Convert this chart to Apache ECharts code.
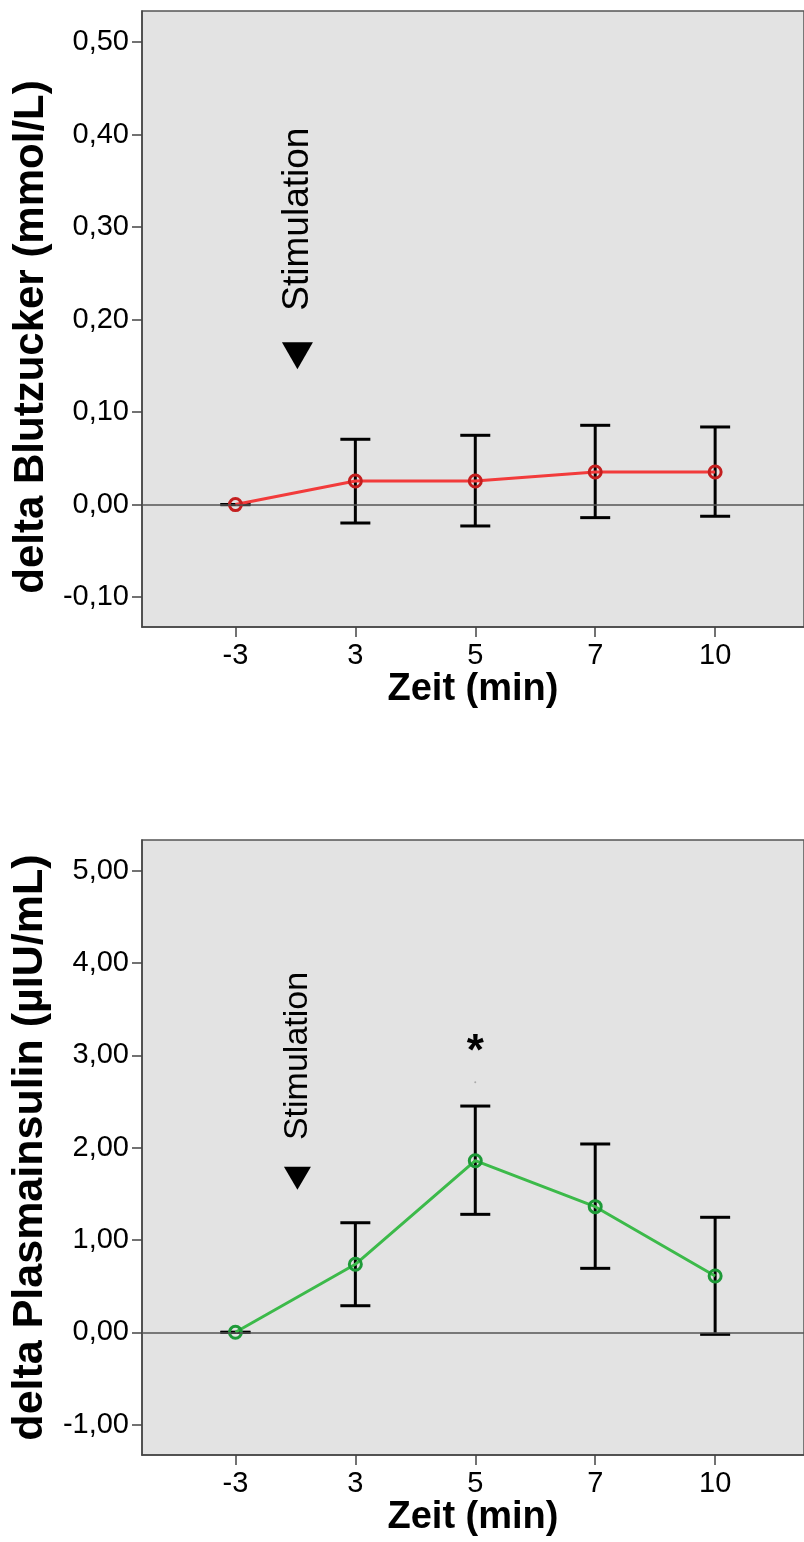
<!DOCTYPE html>
<html>
<head>
<meta charset="utf-8">
<script src="https://cdn.jsdelivr.net/npm/echarts@6/dist/echarts.min.js"></script>
<style>
  html, body { margin: 0; padding: 0; background: #fff; }
  #chart { width: 804px; height: 1542px; }
</style>
</head>
<body>
<div id="chart"></div>
<script>
// time points (min), drawn as evenly spaced positions 0..4
const timeLabels = ["-3", "3", "5", "7", "10"];
const timeIndex = [0, 1, 2, 3, 4];

// delta Blutzucker (mmol/L)
const glucoseMean = [0, 0.0255, 0.0255, 0.0352, 0.0352];
const glucoseLow = [0, -0.0199, -0.0231, -0.0141, -0.0126];
const glucoseHigh = [0, 0.0706, 0.0749, 0.0857, 0.0839];
const glucoseTicks = [-0.1, 0, 0.1, 0.2, 0.3, 0.4, 0.5];
const glucoseRange = [-0.1323, 0.5335];

// delta Plasmainsulin (µIU/mL)
const insulinMean = [0, 0.737, 1.859, 1.361, 0.61];
const insulinLow = [0, 0.288, 1.278, 0.693, -0.022];
const insulinHigh = [0, 1.187, 2.451, 2.04, 1.246];
const insulinTicks = [-1, 0, 1, 2, 3, 4, 5];
const insulinRange = [-1.329, 5.333];

// annotations
const stimulationX = 0.517;
const glucoseStimMarker = 0.161;
const glucoseStimText = 0.2064;
const insulinStimMarker = 1.668;
const insulinStimText = 2.05;
const insulinStar = [2, 3.134];
const insulinDot = [2, 2.708];

const xRange = [-0.779, 4.741];
const font = "Liberation Sans, Arial, sans-serif";

var chart = echarts.init(document.getElementById("chart"), null, { renderer: "canvas" });

function fmtComma(v) {
  return v.toFixed(2).replace(".", ",");
}

function errorBar(params, api) {
  var x = api.value(0);
  var lo = api.coord([x, api.value(1)]);
  var hi = api.coord([x, api.value(2)]);
  var half = 15;
  var style = { stroke: "#000", lineWidth: 3 };
  return {
    type: "group",
    children: [
      { type: "line", shape: { x1: lo[0], y1: lo[1], x2: hi[0], y2: hi[1] }, style: style },
      { type: "line", shape: { x1: hi[0] - half, y1: hi[1], x2: hi[0] + half, y2: hi[1] }, style: style },
      { type: "line", shape: { x1: lo[0] - half, y1: lo[1], x2: lo[0] + half, y2: lo[1] }, style: style },
    ],
  };
}

function xAxisFor(gridIndex) {
  return {
    type: "value",
    gridIndex: gridIndex,
    min: xRange[0],
    max: xRange[1],
    name: "Zeit (min)",
    nameLocation: "middle",
    nameGap: 40,
    nameTextStyle: { fontSize: 38, fontWeight: "bold", color: "#000", fontFamily: font, verticalAlign: "top" },
    axisLine: { show: true, onZero: false, lineStyle: { color: "#444", width: 1.5 } },
    axisTick: { show: true, length: 10, customValues: timeIndex, lineStyle: { color: "#444", width: 1.5 } },
    axisLabel: {
      customValues: timeIndex,
      margin: 14,
      fontSize: 29,
      color: "#000",
      fontFamily: font,
      formatter: function(v) {
        return timeLabels[Math.round(v)];
      },
    },
    splitLine: { show: false },
  };
}

function yAxisFor(gridIndex, title, range, ticks, titleSize, titlePad) {
  return {
    type: "value",
    gridIndex: gridIndex,
    min: range[0],
    max: range[1],
    name: title,
    nameLocation: "middle",
    nameGap: 88,
    nameTextStyle: { fontSize: titleSize, fontWeight: "bold", color: "#000", fontFamily: font, padding: titlePad },
    axisLine: { show: true, onZero: false, lineStyle: { color: "#444", width: 1.5 } },
    axisTick: { show: true, length: 10, customValues: ticks, lineStyle: { color: "#444", width: 1.5 } },
    axisLabel: {
      customValues: ticks,
      margin: 13,
      fontSize: 29,
      color: "#000",
      fontFamily: font,
      formatter: fmtComma,
    },
    splitLine: { show: false },
  };
}

function panelSeries(i, mean, low, high, lineColor, ringColor, stimMarker, stimText, stimFont, triSize) {
  return [
    {
      type: "line",
      xAxisIndex: i,
      yAxisIndex: i,
      data: [],
      z: 1,
      silent: true,
      markLine: {
        silent: true,
        symbol: ["none", "none"],
        label: { show: false },
        lineStyle: { color: "#555", width: 1.5, type: "solid" },
        emphasis: { disabled: true },
        data: [{ yAxis: 0 }],
      },
    },
    {
      type: "custom",
      xAxisIndex: i,
      yAxisIndex: i,
      z: 3,
      silent: true,
      renderItem: errorBar,
      encode: { x: 0, y: [1, 2] },
      data: timeIndex.map((t, k) => [t, low[k], high[k]]),
    },
    {
      type: "line",
      xAxisIndex: i,
      yAxisIndex: i,
      z: 4,
      silent: true,
      data: timeIndex.map((t, k) => [t, mean[k]]),
      lineStyle: { color: lineColor, width: 3 },
      symbol: "circle",
      symbolSize: 12,
      itemStyle: { color: "rgba(0,0,0,0)", borderColor: ringColor, borderWidth: 3 },
    },
    {
      type: "scatter",
      xAxisIndex: i,
      yAxisIndex: i,
      z: 5,
      silent: true,
      symbol: "triangle",
      symbolRotate: 180,
      symbolSize: triSize,
      itemStyle: { color: "#000", opacity: 1 },
      data: [[stimulationX, stimMarker]],
    },
    {
      type: "scatter",
      xAxisIndex: i,
      yAxisIndex: i,
      z: 5,
      silent: true,
      symbolSize: 0,
      itemStyle: { opacity: 1 },
      data: [[stimulationX, stimText]],
      label: {
        show: true,
        position: "inside",
        formatter: "Stimulation",
        rotate: 90,
        align: "left",
        verticalAlign: "middle",
        offset: [3, 0],
        fontSize: stimFont,
        color: "#000",
        fontFamily: font,
      },
    },
  ];
}

var series = []
  .concat(panelSeries(0, glucoseMean, glucoseLow, glucoseHigh, "#f23b3b", "#c41f1f", glucoseStimMarker, glucoseStimText, 37, [31, 27]))
  .concat(panelSeries(1, insulinMean, insulinLow, insulinHigh, "#3cba4a", "#1e9a38", insulinStimMarker, insulinStimText, 34, [27, 23]));

series.push({
  type: "scatter",
  xAxisIndex: 1,
  yAxisIndex: 1,
  z: 5,
  silent: true,
  symbolSize: 0,
  itemStyle: { opacity: 1 },
  data: [insulinStar],
  label: {
    show: true,
    position: "inside",
    formatter: "*",
    fontSize: 44,
    fontWeight: "bold",
    color: "#000",
    fontFamily: font,
    offset: [0, 10],
  },
});
series.push({
  type: "scatter",
  xAxisIndex: 1,
  yAxisIndex: 1,
  z: 5,
  silent: true,
  symbolSize: 2,
  itemStyle: { color: "#aaa", opacity: 1 },
  data: [insulinDot],
});

var option = {
  animation: false,
  textStyle: { fontFamily: font },
  grid: [
    { left: 142, top: 11, right: -6, height: 616, show: true, backgroundColor: "#e3e3e3", borderColor: "#555", borderWidth: 1.5 },
    { left: 142, top: 840, right: -6, height: 615, show: true, backgroundColor: "#e3e3e3", borderColor: "#555", borderWidth: 1.5 },
  ],
  xAxis: [xAxisFor(0), xAxisFor(1)],
  yAxis: [
    yAxisFor(0, "delta Blutzucker (mmol/L)", glucoseRange, glucoseTicks, 42, [0, 36, 0, 0]),
    yAxisFor(1, "delta Plasmainsulin (µIU/mL)", insulinRange, insulinTicks, 43, 0),
  ],
  series: series,
};

chart.setOption(option);

window.addEventListener("resize", function() {
  chart.resize();
});
</script>
</body>
</html>
